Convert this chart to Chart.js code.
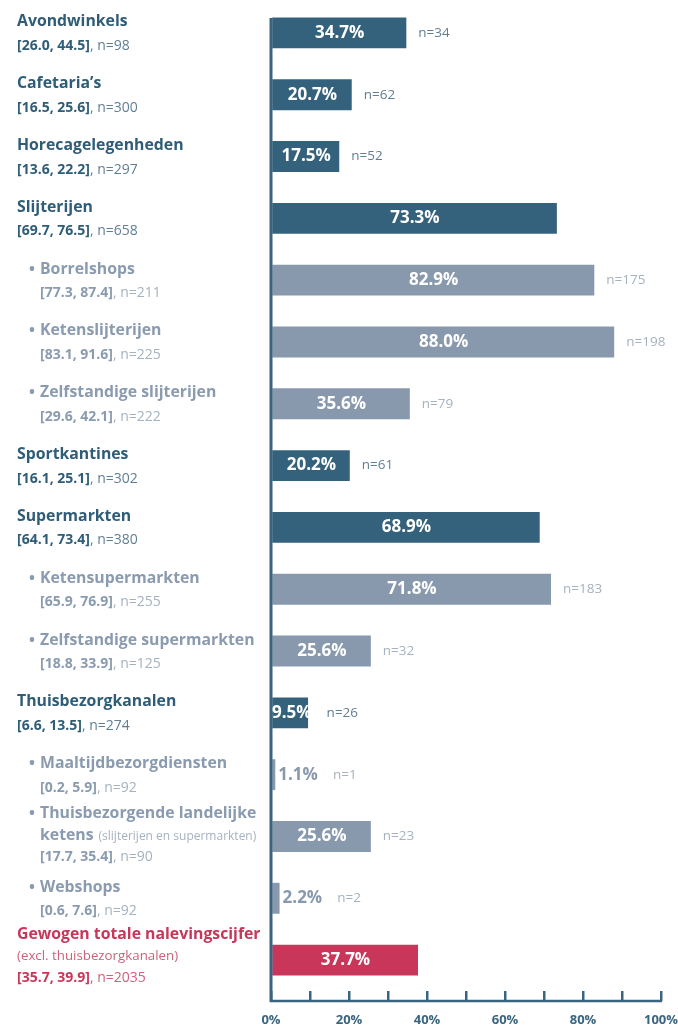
<!DOCTYPE html>
<html>
<head>
<meta charset="utf-8">
<script src="https://cdn.jsdelivr.net/npm/chart.js@4.4.1/dist/chart.umd.min.js"></script>
<style>
  html, body { margin: 0; padding: 0; background: #fff; }
  #wrap { position: relative; width: 678px; height: 1028px; }
</style>
</head>
<body>
<div id="wrap"><canvas id="chart"></canvas></div>
<script>
const categories = ['Avondwinkels', 'Cafetaria\u2019s', 'Horecagelegenheden', 'Slijterijen', 'Borrelshops', 'Ketenslijterijen',
  'Zelfstandige slijterijen', 'Sportkantines', 'Supermarkten', 'Ketensupermarkten', 'Zelfstandige supermarkten',
  'Thuisbezorgkanalen', 'Maaltijdbezorgdiensten', 'Thuisbezorgende landelijke\nketens', 'Webshops', 'Gewogen totale nalevingscijfer'];
const notes = [null, null, null, null, null, null, null, null, null, null, null, null, null,
  '(slijterijen en supermarkten)', null, '(excl. thuisbezorgkanalen)'];
const levels = [0, 0, 0, 0, 1, 1, 1, 0, 0, 1, 1, 0, 1, 1, 1, 2];   // 0 = channel, 1 = sub, 2 = total
const values = [34.7, 20.7, 17.5, 73.3, 82.9, 88.0, 35.6, 20.2, 68.9, 71.8, 25.6, 9.5, 1.1, 25.6, 2.2, 37.7];
const barN = [34, 62, 52, null, 175, 198, 79, 61, null, 183, 32, 26, 1, 23, 2, null];
const ciLow = [26.0, 16.5, 13.6, 69.7, 77.3, 83.1, 29.6, 16.1, 64.1, 65.9, 18.8, 6.6, 0.2, 17.7, 0.6, 35.7];
const ciHigh = [44.5, 25.6, 22.2, 76.5, 87.4, 91.6, 42.1, 25.1, 73.4, 76.9, 33.9, 13.5, 5.9, 35.4, 7.6, 39.9];
const sampleN = [98, 300, 297, 658, 211, 225, 222, 302, 380, 255, 125, 274, 92, 90, 92, 2035];

const FONT = '"Open Sans", sans-serif';
const AXIS = '#3a6580';
const barColors = ['#34627c', '#8899ad', '#c8375a'];
const titleColors = ['#2f5c76', '#8a9bb0', '#c8375a'];
const lightColors = ['#5f7f95', '#a5b2bf', '#d0607c'];

const sideLabels = {
  id: 'sideLabels',
  afterDraw(chart) {
    const ctx = chart.ctx;
    const y = chart.scales.y, x = chart.scales.x;
    const area = chart.chartArea;
    ctx.save();

    // axis lines
    ctx.strokeStyle = AXIS;
    ctx.lineWidth = 3;
    ctx.beginPath();
    ctx.moveTo(area.left, y.getPixelForValue(0) - 15);
    ctx.lineTo(area.left, area.bottom + 11);
    ctx.stroke();
    ctx.lineWidth = 2.5;
    ctx.beginPath();
    ctx.moveTo(area.left - 1, area.bottom + 10);
    ctx.lineTo(x.getPixelForValue(100) + 1, area.bottom + 10);
    ctx.stroke();

    categories.forEach((cat, i) => {
      const lv = levels[i];
      const c = y.getPixelForValue(i);
      const lines = cat.split('\n');
      const noteOwnLine = notes[i] && lv === 2;
      const n = lines.length + (noteOwnLine ? 1 : 0) + 1;
      const step = n === 2 ? 24 : 21.5;
      const mid = n === 2 ? c + 1 : (lv === 2 ? c - 4 : c - 1);
      let ty = mid - step * (n - 1) / 2;
      const x0 = lv === 1 ? 40 : 17;
      ctx.textBaseline = 'middle';
      ctx.textAlign = 'left';

      lines.forEach((ln, k) => {
        ctx.fillStyle = titleColors[lv];
        ctx.font = 'bold 15.8px ' + FONT;
        if (lv === 1 && k === 0) ctx.fillText('\u2022', 29, ty);
        ctx.fillText(ln, x0, ty);
        if (k === lines.length - 1 && notes[i] && !noteOwnLine) {
          const w = ctx.measureText(ln).width;
          ctx.font = '12px ' + FONT;
          ctx.fillStyle = lightColors[lv];
          ctx.fillText(notes[i], x0 + w + 5, ty + 1);
        }
        ty += step;
      });
      if (noteOwnLine) {
        ctx.font = '13.3px ' + FONT;
        ctx.fillStyle = lightColors[lv];
        ctx.fillText(notes[i], x0, ty);
        ty += step;
      }
      const ci = '[' + ciLow[i].toFixed(1) + ', ' + ciHigh[i].toFixed(1) + ']';
      ctx.font = 'bold 14px ' + FONT;
      ctx.fillStyle = titleColors[lv];
      ctx.fillText(ci, x0, ty);
      const w = ctx.measureText(ci).width;
      ctx.font = '14px ' + FONT;
      ctx.fillStyle = lightColors[lv];
      ctx.fillText(', n=' + sampleN[i], x0 + w, ty);
    });

    // value + n labels
    const meta = chart.getDatasetMeta(0);
    meta.data.forEach((bar, i) => {
      const lv = levels[i];
      const txt = values[i].toFixed(1) + '%';
      ctx.font = 'bold 17px ' + FONT;
      const tw = ctx.measureText(txt).width;
      let end = bar.x;
      ctx.textBaseline = 'middle';
      if (values[i] >= 5) {
        ctx.textAlign = 'center';
        ctx.fillStyle = '#ffffff';
        ctx.fillText(txt, Math.max((area.left + bar.x) / 2 + 1, area.left + tw / 2 + 1), bar.y);
        end = Math.max(bar.x, area.left + tw + 4) - 3;
      } else {
        ctx.textAlign = 'left';
        ctx.fillStyle = barColors[lv];
        ctx.fillText(txt, bar.x + 3, bar.y);
        end = bar.x + 3 + tw;
      }
      if (barN[i] !== null) {
        ctx.textAlign = 'left';
        ctx.font = '13.5px ' + FONT;
        ctx.fillStyle = lightColors[lv];
        ctx.fillText('n=' + barN[i], end + 15, bar.y);
      }
    });
    ctx.restore();
  }
};

new Chart(document.getElementById('chart'), {
  type: 'bar',
  data: {
    labels: categories,
    datasets: [{
      data: values,
      backgroundColor: levels.map(l => barColors[l]),
      borderWidth: 0,
      barPercentage: 1,
      categoryPercentage: 0.5
    }]
  },
  options: {
    indexAxis: 'y',
    responsive: true,
    maintainAspectRatio: false,
    animation: false,
    layout: { padding: { left: 271, right: 17, top: 2, bottom: 0 } },
    plugins: { legend: { display: false }, tooltip: { enabled: false } },
    scales: {
      y: { display: false },
      x: {
        min: 0,
        max: 100,
        afterFit(s) { s.paddingLeft = 0; s.paddingRight = 0; s.height = 37; },
        border: { display: false },
        grid: { drawOnChartArea: false, drawTicks: true, tickLength: 10, color: AXIS, lineWidth: 2.5 },
        ticks: {
          stepSize: 10,
          autoSkip: false,
          maxRotation: 0,
          padding: 11,
          color: AXIS,
          font: { family: FONT, size: 13, weight: 'bold' },
          callback: v => (v % 20 === 0 ? v + '%' : '')
        }
      }
    }
  },
  plugins: [sideLabels]
});
</script>
</body>
</html>
